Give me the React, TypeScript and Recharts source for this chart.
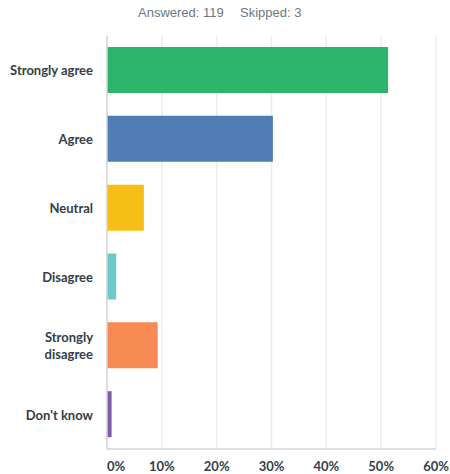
import React from "react";
import { BarChart, Bar, XAxis, YAxis, CartesianGrid, Cell } from "recharts";

const CATEGORIES = ["Strongly agree", "Agree", "Neutral", "Disagree", "Strongly disagree", "Don't know"];
const PERCENTS = [51.26, 30.25, 6.72, 1.68, 9.24, 0.84];
const COLORS = ["#2db56c", "#507cb6", "#f7be16", "#6bc8cd", "#f78b53", "#7d5ba6"];
const X_TICKS = [0, 10, 20, 30, 40, 50, 60];

const data = CATEGORIES.map((name, i) => ({ name, value: PERCENTS[i] }));

const FONT = "Lato, 'Open Sans', sans-serif";
const LABEL_COLOR = "#333e48";

function CategoryTick(props: any) {
  const { x, y, payload } = props;
  const label: string = payload.value;
  const lines = label === "Strongly disagree" ? ["Strongly", "disagree"] : [label];
  const lineH = 17;
  const startY = y - ((lines.length - 1) * lineH) / 2;
  return (
    <text
      x={x - 6}
      y={startY}
      textAnchor="end"
      dominantBaseline="central"
      fill={LABEL_COLOR}
      fontFamily={FONT}
      fontWeight={700}
      fontSize={13}
    >
      {lines.map((l, i) => (
        <tspan key={i} x={x - 6} dy={i === 0 ? 0 : lineH}>
          {l}
        </tspan>
      ))}
    </text>
  );
}

function PercentTick(props: any) {
  const { x, y, payload } = props;
  const v = payload.value;
  return (
    <text
      x={x}
      y={y + 14}
      textAnchor={v === 0 ? "start" : "middle"}
      fill={LABEL_COLOR}
      fontFamily={FONT}
      fontWeight={700}
      fontSize={13}
    >
      {`${v}%`}
    </text>
  );
}

const headerStyle: React.CSSProperties = {
  position: "absolute",
  top: 5,
  fontFamily: "'Liberation Sans', Arial, sans-serif",
  fontSize: 13,
  color: "#6b787f",
  whiteSpace: "pre",
};

export default function App() {
  return (
    <div style={{ position: "absolute", left: 0, top: 0, width: 450, height: 474, background: "#fff" }}>
      <div style={{ ...headerStyle, left: 138 }}>Answered: 119</div>
      <div style={{ ...headerStyle, left: 240 }}>Skipped: 3</div>
      <BarChart
        width={450}
        height={474}
        data={data}
        layout="vertical"
        margin={{ top: 36, right: 14, bottom: 0, left: 0 }}
      >
        <CartesianGrid horizontal={false} stroke="#ececec" strokeWidth={1.5} />
        <XAxis
          type="number"
          domain={[0, 60]}
          ticks={X_TICKS}
          tick={<PercentTick />}
          tickLine={false}
          axisLine={{ stroke: "#d4d4d4", strokeWidth: 1.5 }}
          height={25}
          interval={0}
        />
        <YAxis
          type="category"
          dataKey="name"
          width={107}
          tick={<CategoryTick />}
          tickLine={false}
          axisLine={{ stroke: "#d4d4d4", strokeWidth: 1.5 }}
          interval={0}
        />
        <Bar dataKey="value" barSize={46} isAnimationActive={false}>
          {data.map((d, i) => (
            <Cell key={d.name} fill={COLORS[i]} />
          ))}
        </Bar>
      </BarChart>
    </div>
  );
}
